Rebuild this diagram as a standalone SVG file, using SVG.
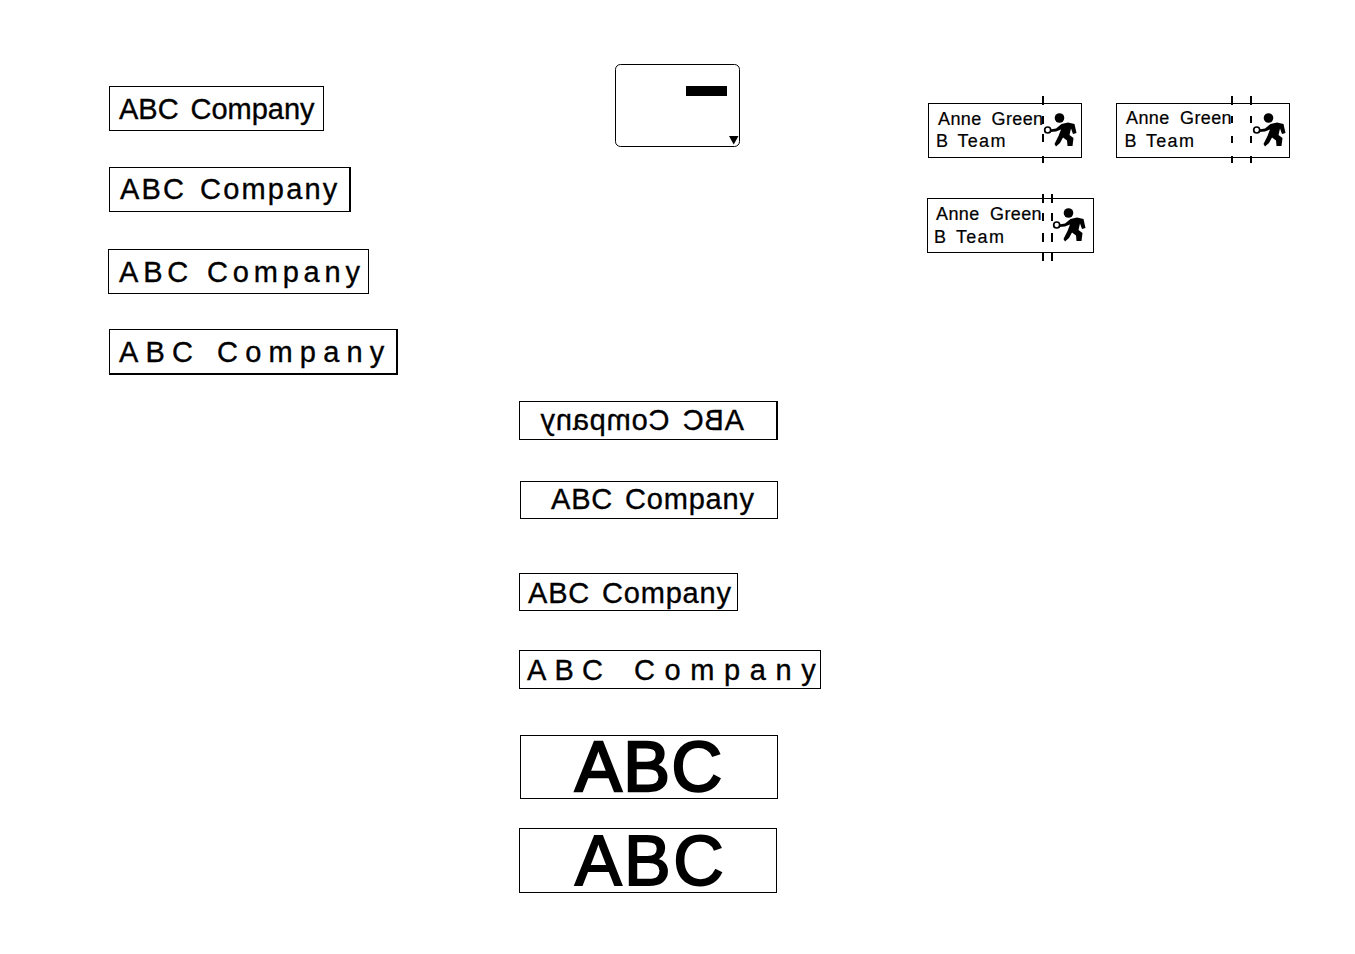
<svg xmlns="http://www.w3.org/2000/svg" width="1355" height="954" viewBox="0 0 1355 954">
<style>
.b{fill:#fff;stroke:#000;stroke-width:1}
text{font-family:"Liberation Sans",Arial,sans-serif;fill:#000;stroke:#000}
.l{font-size:29px;stroke-width:.35px}
.s{font-size:18px;letter-spacing:.4px;stroke-width:.2px}
.t{letter-spacing:1.3px}
.big{font-size:70px;stroke-width:2.4px;letter-spacing:1.5px}
.big2{font-size:70px;stroke-width:1.9px;letter-spacing:2.4px}
.d{stroke:#000;stroke-width:2;fill:none}
.e{stroke:#000;stroke-width:2;fill:none}
</style>
<defs>
<g id="man">
<circle cx="1059.500" cy="118" r="4.800" fill="#000"/>
<path d="M1050 129.500L1056 128.500L1061.500 124L1068 122.500L1074.500 124L1076.500 133L1073 134L1071 128.500L1069.500 135L1073.500 138L1072.500 146L1067.500 146L1067 140.500L1063 137.500L1060 143L1056 146.500L1054.500 144L1058.500 136L1061 129.500L1056 131.500L1050 132Z" fill="#000"/>
<circle cx="1047.700" cy="130" r="3" fill="#fff" stroke="#000" stroke-width="1.700"/>
</g>
</defs>
<g id="connectors"></g>
<g id="n1"><rect class="b" x="109.500" y="86.500" width="214" height="44"/><text class="l" y="119"><tspan x="119">ABC</tspan> <tspan x="190.500">Company</tspan></text></g>
<g id="n2"><rect class="b" x="109.500" y="167.500" width="241" height="44"/><path class="e" d="M350 167V212"/><text class="l" y="199" letter-spacing="2.2"><tspan x="120">ABC</tspan> <tspan x="200">Company</tspan></text></g>
<g id="n3"><rect class="b" x="108.500" y="249.500" width="260" height="44"/><text class="l" y="282" letter-spacing="4.8"><tspan x="119">ABC</tspan> <tspan x="207">Company</tspan></text></g>
<g id="n4"><rect class="b" x="109.500" y="329.500" width="288" height="45"/><path class="e" d="M397 329V375M109 374H398"/><text class="l" y="362" letter-spacing="7.2"><tspan x="119">ABC</tspan> <tspan x="217">Company</tspan></text></g>
<g id="screen"><rect x="615.500" y="64.500" width="124" height="82" rx="5" fill="#fff" stroke="#000"/><rect x="686" y="86" width="41" height="10" fill="#000"/><path d="M729 136H738.500L733.700 144.500Z" fill="#000"/></g>
<g id="label1"><rect class="b" x="928.500" y="103.500" width="153" height="54"/><text class="s" y="124.500"><tspan x="938">Anne</tspan> <tspan x="991.500">Green</tspan></text><text class="s" y="147"><tspan x="936">B</tspan> <tspan class="t" x="957.500">Team</tspan></text><path class="d" d="M1043 96V105M1043 116V124M1043 134V142M1043 156V163"/><use href="#man"/></g>
<g id="label2"><rect class="b" x="1116.500" y="103.500" width="173" height="54"/><text class="s" y="123.500"><tspan x="1126">Anne</tspan> <tspan x="1180">Green</tspan></text><text class="s" y="147"><tspan x="1124.500">B</tspan> <tspan class="t" x="1146">Team</tspan></text><path class="d" d="M1232 96V105M1232 116V123M1232 136V143M1232 156V163M1251 96V105M1251 116V123M1251 136V143M1251 156V163"/><use href="#man" x="209"/></g>
<g id="label3"><rect class="b" x="927.500" y="198.500" width="166" height="54"/><text class="s" y="219.500"><tspan x="936">Anne</tspan> <tspan x="990">Green</tspan></text><text class="s" y="242.500"><tspan x="934">B</tspan> <tspan class="t" x="956">Team</tspan></text><path class="d" d="M1043 194V203M1043 213V221M1043 233V242M1043 253V261M1052 194V203M1052 213V221M1052 233V242M1052 253V261"/><use href="#man" x="9" y="95"/></g>
<g id="n5"><rect class="b" x="519.500" y="401.500" width="258" height="38"/><path class="e" d="M777 401V440"/><text class="l" transform="translate(744 430) scale(-1 1)" letter-spacing=".8"><tspan x="0">ABC</tspan> <tspan x="74.500">Company</tspan></text></g>
<g id="n6"><rect class="b" x="520.500" y="481.500" width="257" height="37"/><text class="l" y="509" letter-spacing=".8"><tspan x="551">ABC</tspan> <tspan x="625">Company</tspan></text></g>
<g id="n7"><rect class="b" x="519.500" y="573.500" width="218" height="37"/><text class="l" y="603" letter-spacing=".8"><tspan x="528">ABC</tspan> <tspan x="602">Company</tspan></text></g>
<g id="n8"><rect class="b" x="519.500" y="650.500" width="301" height="38"/><text class="l" y="680"><tspan x="527" letter-spacing="8.2">ABC</tspan> <tspan x="634" letter-spacing="9.600">Company</tspan></text></g>
<g id="n9"><rect class="b" x="520.500" y="735.500" width="257" height="63"/><text class="big" x="575" y="790.500">ABC</text></g>
<g id="n10"><rect class="b" x="519.500" y="828.500" width="257" height="64"/><text class="big2" x="575" y="885">ABC</text></g>
</svg>
